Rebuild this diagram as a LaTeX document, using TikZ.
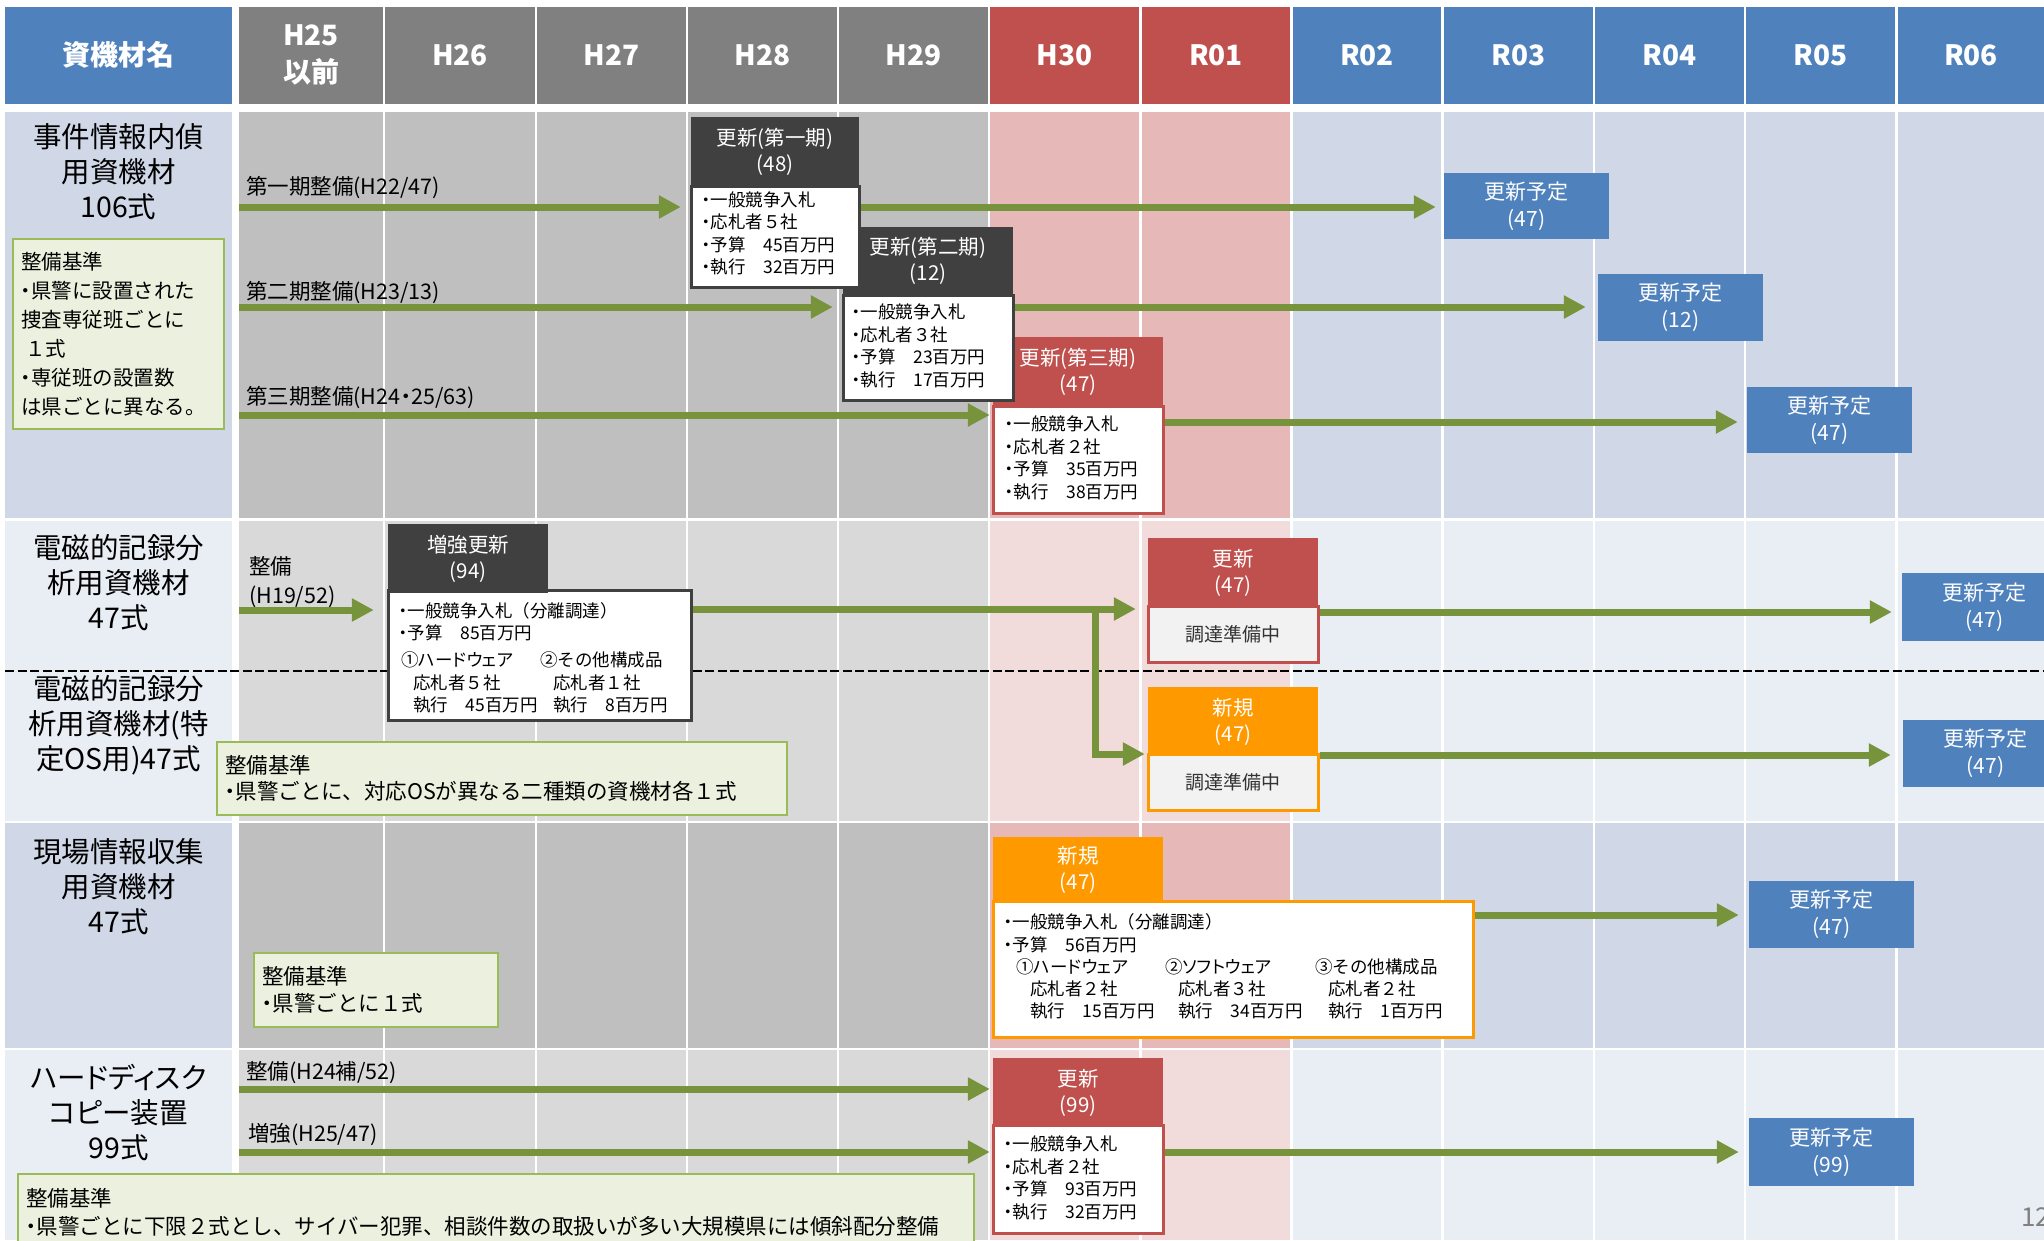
\documentclass[tikz,border=0pt]{standalone}
\usepackage{fontspec}
\setmainfont{Noto Sans CJK JP}
\newfontfamily\pfont{Noto Sans CJK JP}[RawFeature=+palt]
\usetikzlibrary{arrows.meta}
\definecolor{hd0}{HTML}{808080}
\definecolor{hd1}{HTML}{C0504D}
\definecolor{hd2}{HTML}{4F81BD}
\definecolor{ra0}{HTML}{BFBFBF}
\definecolor{ra1}{HTML}{E6B9B8}
\definecolor{ra2}{HTML}{D0D8E8}
\definecolor{rb0}{HTML}{D9D9D9}
\definecolor{rb1}{HTML}{F2DCDB}
\definecolor{rb2}{HTML}{E9EDF4}
\definecolor{hblue}{HTML}{4F81BD}
\definecolor{hred}{HTML}{C0504D}
\definecolor{darkbox}{HTML}{404040}
\definecolor{orng}{HTML}{FF9900}
\definecolor{arrgreen}{HTML}{77933C}
\definecolor{notefill}{HTML}{EBF1DE}
\definecolor{noteline}{HTML}{9BBB59}
\definecolor{prepfill}{HTML}{F2F2F2}
\newcommand\fs[2]{\fontsize{#1pt}{#2pt}\selectfont}
\newcommand\mdot{\makebox[0.5em][c]{・}}
\begin{document}
\begin{tikzpicture}[x=1pt,y=-1pt,
  hdrtxt/.style={text=white,font=\fs{28}{37}\bfseries,align=center,inner sep=0},
  rowlbl/.style={font=\fs{28.5}{35},align=center,inner sep=0},
  arrlbl/.style={font=\fs{21.5}{29},anchor=west,inner sep=0,align=left},
  headbox/.style={inner sep=0,text=white,font=\fs{20.5}{26},align=center},
  bodybox/.style={inner sep=0,fill=white,line width=3pt},
  bodytxt/.style={font=\fs{17.5}{22.5},align=left,anchor=west,inner sep=0},
  planbox/.style={fill=hblue,text=white,inner sep=0,font=\fs{21}{27},align=center,minimum width=165pt,minimum height=67pt},
  notebox/.style={fill=notefill,draw=noteline,line width=1.5pt,inner xsep=8pt,inner ysep=0pt,align=left,font=\fs{21.5}{28}},
  prepbox/.style={fill=prepfill,inner sep=0,line width=3pt,text=black!80,font=\fs{19}{24}},
  garr/.style={draw=arrgreen,line width=7pt,-{Triangle[length=22pt,width=22pt]}},
]
\useasboundingbox (0,0) rectangle (2044,1240);
\fill[white] (0,0) rectangle (2044,1240);

% left column
\fill[hblue] (5,7) rectangle (232,104);
\fill[ra2] (5,112) rectangle (232,518);
\fill[rb2] (5,521) rectangle (232,821);
\fill[ra2] (5,823) rectangle (232,1048);
\fill[rb2] (5,1050) rectangle (232,1240);
\node[hdrtxt] (hdname) at (118.5,55) {資機材名};

% year columns
\foreach \xl/\xr/\xt/\xn/\xx in {239/383/0/h25/{H25\\以前},385/535/0/h26/H26,537/686/0/h27/H27,688/837/0/h28/H28,839/988/0/h29/H29,990/1139/1/h30/H30,1142/1290/1/r01/R01,1293/1441/2/r02/R02,1444/1593/2/r03/R03,1595/1744/2/r04/R04,1746/1895/2/r05/R05,1898/2044/2/r06/R06}{
  \fill[hd\xt] (\xl,7) rectangle (\xr,104);
  \fill[ra\xt] (\xl,112) rectangle (\xr,518);
  \fill[rb\xt] (\xl,521) rectangle (\xr,821);
  \fill[ra\xt] (\xl,823) rectangle (\xr,1048);
  \fill[rb\xt] (\xl,1050) rectangle (\xr,1240);
  \node[hdrtxt] (hd\xn) at ({(\xl+\xr)/2},55) {\xx};
}

% dashed separator
\draw[black,line width=2.8pt,dash pattern=on 9pt off 3.5pt] (5,671) -- (2044,671);

% row labels
\node[rowlbl] (l1) at (118.5,172) {事件情報内偵\\用資機材\\106式};
\node[rowlbl] (l2) at (118.5,583) {電磁的記録分\\析用資機材\\47式};
\node[rowlbl] (l3) at (118.5,725) {電磁的記録分\\析用資機材(特\\定OS用)47式};
\node[rowlbl] (l4) at (118.5,887) {現場情報収集\\用資機材\\47式};
\node[rowlbl] (l5) at (118.5,1113) {{\pfont ハードディスク}\\{\pfont コピー}装置\\99式};

% notes
\node[notebox,font=\fs{20.5}{29},text width=195pt,minimum height=190pt] (n1) at (118.5,334) {整備基準\\\mdot 県警に設置された\\捜査専従班ごとに\\\hspace*{4pt}１式\\\mdot 専従班の設置数\\は県ごとに異なる。};
\node[notebox,font=\fs{21.5}{26},text width=554pt,minimum height=73pt] (n2) at (502,778.5) {整備基準\\\mdot 県警ごとに、対応OSが異なる二種類の資機材各１式};
\node[notebox,font=\fs{21.5}{27},text width=228pt,minimum height=74pt] (n3) at (376,990) {整備基準\\\mdot 県警ごとに１式};
\node[notebox,text width=940pt,minimum height=76pt] (n4) at (496,1212) {整備基準\\\mdot 県警ごとに下限２式とし、サイバー犯罪、相談件数の取扱いが多い大規模県には傾斜配分整備};

% arrow labels
\node[arrlbl] (al1) at (246,188) {第一期整備(H22/47)};
\node[arrlbl] (al2) at (246,293) {第二期整備(H23/13)};
\node[arrlbl] (al3) at (246,398) {第三期整備(H24\mdot 25/63)};
\node[arrlbl] (al4) at (249,582.5) {整備\\(H19/52)};
\node[arrlbl] (al5) at (246,1073) {整備(H24補/52)};
\node[arrlbl] (al6) at (248,1135) {増強(H25/47)};

% box 3
\node[bodybox,draw=hred,minimum width=170pt,minimum height=107pt] (b3b) at (1078,459.5) {};
\node[headbox,fill=hred,minimum width=170pt,minimum height=69pt] (b3h) at (1078,371.5) {更新(第三期)\\(47)};
\node[bodytxt] (b3t) at (1005,458) {\mdot 一般競争入札\\\mdot 応札者２社\\\mdot 予算　35百万円\\\mdot 執行　38百万円};
% box 2
\node[bodybox,draw=darkbox,minimum width=170pt,minimum height=105pt] (b2b) at (928,347.5) {};
\node[headbox,fill=darkbox,minimum width=170pt,minimum height=68pt] (b2h) at (928,261) {更新(第二期)\\(12)};
\node[bodytxt] (b2t) at (852,346) {\mdot 一般競争入札\\\mdot 応札者３社\\\mdot 予算　23百万円\\\mdot 執行　17百万円};
% box 1
\node[bodybox,draw=darkbox,minimum width=168pt,minimum height=101pt] (b1b) at (775,236.5) {};
\node[headbox,fill=darkbox,minimum width=168pt,minimum height=69pt] (b1h) at (775,151.5) {更新(第一期)\\(48)};
\node[bodytxt] (b1t) at (702,233.5) {\mdot 一般競争入札\\\mdot 応札者５社\\\mdot 予算　45百万円\\\mdot 執行　32百万円};

% 増強更新
\node[bodybox,draw=darkbox,minimum width=303pt,minimum height=130pt] (zb) at (539.5,655) {};
\node[headbox,fill=darkbox,minimum width=160pt,minimum height=69pt] (zh) at (468,558.5) {増強更新\\(94)};
\node[bodytxt] (zt1) at (399,621.5) {\mdot 一般競争入札（分離調達）\\\mdot 予算　85百万円};
\node[bodytxt] (zt2) at (401,660) {①{\pfont ハードウェア}};
\node[bodytxt] (zt3) at (413,694) {応札者５社\\執行　45百万円};
\node[bodytxt] (zt4) at (540,660) {②その他構成品};
\node[bodytxt] (zt5) at (553,694) {応札者１社\\執行　8百万円};

% 更新(47) / 新規(47)  row 2
\node[prepbox,draw=hred,minimum width=170pt,minimum height=56pt] (k1l) at (1233,634) {調達準備中};
\node[headbox,fill=hred,minimum width=170pt,minimum height=70pt] (k1h) at (1233,573) {更新\\(47)};
\node[prepbox,draw=orng,minimum width=170pt,minimum height=56pt] (k2l) at (1233,782) {調達準備中};
\node[headbox,fill=orng,minimum width=170pt,minimum height=69pt] (k2h) at (1233,721.5) {新規\\(47)};

% 新規 row 3
\node[bodybox,draw=orng,minimum width=480pt,minimum height=136pt] (nb) at (1233,969) {};
\node[headbox,fill=orng,minimum width=170pt,minimum height=66pt] (nh) at (1078,870) {新規\\(47)};
\node[bodytxt] (nt1) at (1004,933) {\mdot 一般競争入札（分離調達）\\\mdot 予算　56百万円};
\node[bodytxt] (nt2) at (1016,967) {①{\pfont ハードウェア}};
\node[bodytxt] (nt3) at (1030,1000) {応札者２社\\執行　15百万円};
\node[bodytxt] (nt4) at (1165,967) {②{\pfont ソフトウェア}};
\node[bodytxt] (nt5) at (1178,1000) {応札者３社\\執行　34百万円};
\node[bodytxt] (nt6) at (1315,967) {③その他構成品};
\node[bodytxt] (nt7) at (1328,1000) {応札者２社\\執行　1百万円};

% 更新(99) row 4
\node[bodybox,draw=hred,minimum width=170pt,minimum height=108pt] (ub) at (1078,1179) {};
\node[headbox,fill=hred,minimum width=170pt,minimum height=69pt] (uh) at (1078,1092.5) {更新\\(99)};
\node[bodytxt] (ut) at (1004,1178) {\mdot 一般競争入札\\\mdot 応札者２社\\\mdot 予算　93百万円\\\mdot 執行　32百万円};

% plan boxes
\node[planbox,minimum height=66pt] (p1) at (1526.5,206) {更新予定\\(47)};
\node[planbox] (p2) at (1680.5,307.5) {更新予定\\(12)};
\node[planbox,minimum height=66pt] (p3) at (1829.5,420) {更新予定\\(47)};
\node[planbox,minimum height=68pt] (p4) at (1984.5,607) {更新予定\\(47)};
\node[planbox] (p5) at (1985.5,753.5) {更新予定\\(47)};
\node[planbox] (p6) at (1831.5,914.5) {更新予定\\(47)};
\node[planbox,minimum height=68pt] (p7) at (1831.5,1152) {更新予定\\(99)};

% arrows
\coordinate (s1) at (239,207);
\coordinate (s2) at (239,307);
\coordinate (s3) at (239,415);
\coordinate (t3) at (1163,422);
\coordinate (s4) at (239,610);
\coordinate (t4) at (691,609);
\coordinate (j) at (1095,609);
\coordinate (t5) at (1095,754);
\coordinate (t6) at (1318,612);
\coordinate (t7) at (1318,755);
\coordinate (t8) at (1473,915);
\coordinate (s9) at (239,1089);
\coordinate (s10) at (239,1152);

\draw[garr,shorten >=10pt] (s1) -- (s1 -| b1h.west);
\draw[garr,shorten >=8pt] (b1b.east |- s1) -- (s1 -| p1.west);
\draw[garr,shorten >=10pt] (s2) -- (s2 -| b2h.west);
\draw[garr,shorten >=12pt] (b2b.east |- s2) -- (s2 -| p2.west);
\draw[garr,shorten >=3pt] (s3) -- (s3 -| b3h.west);
\draw[garr,shorten >=9pt] (b3b.east |- t3) -- (t3 -| p3.west);
\draw[garr,shorten >=14pt] (s4) -- (s4 -| zh.west);
\draw[garr,shorten >=12pt] (zb.east |- t4) -- (t4 -| k1h.west);
\draw[garr,shorten >=3pt] (j) -- (t5) -- (t5 -| k2h.west);
\draw[garr,shorten >=10pt] (k1l.east |- t6) -- (t6 -| p4.west);
\draw[garr,shorten >=12pt] (k2l.east |- t7) -- (t7 -| p5.west);
\draw[garr,shorten >=10pt] (nb.east |- t8) -- (t8 -| p6.west);
\draw[garr,shorten >=3pt] (s9) -- (s9 -| uh.west);
\draw[garr,shorten >=3pt] (s10) -- (s10 -| uh.west);
\draw[garr,shorten >=10pt] (ub.east |- s10) -- (s10 -| p7.west);

% page number
\node[font=\fs{26}{30},text=black!50,anchor=west,inner sep=0] (pg) at (2021,1217) {12};
\end{tikzpicture}
\end{document}
